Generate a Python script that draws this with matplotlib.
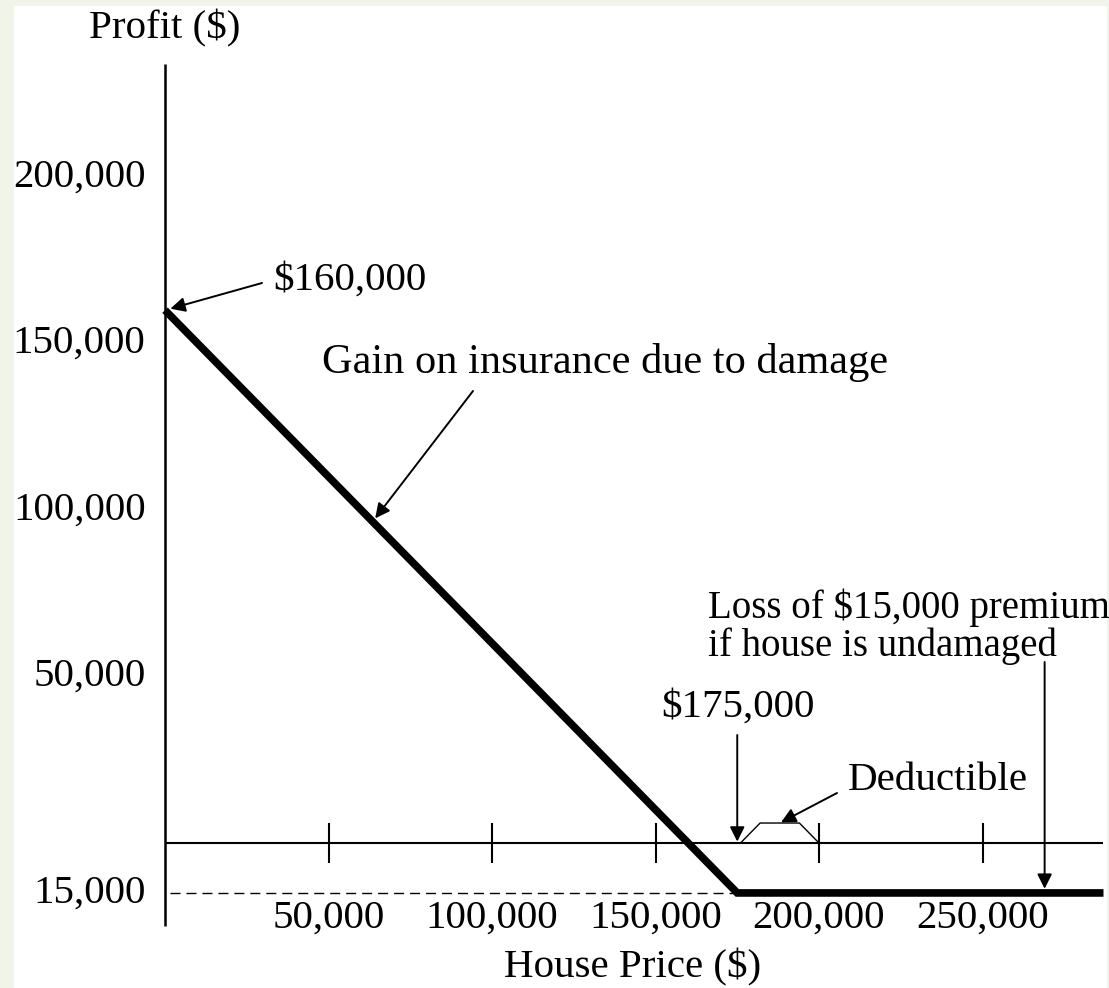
import numpy as np
import matplotlib.pyplot as plt
from matplotlib.patches import Rectangle

plt.rcParams['font.family'] = ['Liberation Serif', 'DejaVu Serif']

# payoff of the insurance position vs. house price
price = [0, 175000, 287000]
profit = [160000, -15000, -15000]

xticks = [50000, 100000, 150000, 200000, 250000]
xtick_labels = ['50,000', '100,000', '150,000', '200,000', '250,000']
yticks = [200000, 150000, 100000, 50000, -15000]
ytick_labels = ['200,000', '150,000', '100,000', '50,000', '15,000']

strike = 175000
deductible = [175000, 200000]
premium = -15000
premium_mark = 269000

# figure setup (sizes in pixels of the original picture)
W, H = 1109, 988
x0_px, x_scale = 165, 163.5 / 50000     # px per dollar of price
y0_px, y_scale = 843, 3.33 / 1000       # px per dollar of profit
fs = 29.5

fig = plt.figure(figsize=(W / 100, H / 100), dpi=100, facecolor='#f1f4e8')
ax = fig.add_axes([0, 0, 1, 1])
ax.axis('off')
ax.set_xlim(-x0_px / x_scale, (W - x0_px) / x_scale)
ax.set_ylim((y0_px - H) / y_scale, y0_px / y_scale)
ax.add_patch(Rectangle((14 / W, 0), (1107 - 14) / W, (H - 6) / H,
                       transform=fig.transFigure, facecolor='white',
                       edgecolor='none', zorder=0, clip_on=False))

# axes lines and ticks
ax.plot([0, 0], [-25000, 234000], color='black', lw=1.8, solid_capstyle='butt')
ax.plot([0, price[-1]], [0, 0], color='black', lw=1.5, solid_capstyle='butt')
ax.vlines(xticks, -6000, 6000, color='black', lw=1.5)
ax.plot([1500, strike], [premium, premium], color='black', lw=1.0,
        dashes=(7.2, 4.3))

# payoff line
ax.plot(price, profit, color='black', lw=5.5, solid_joinstyle='miter',
        solid_capstyle='butt', zorder=5)

# deductible bracket
d0, d1 = deductible
ax.plot([d0 + 1000, d0 + 7000, d1 - 6000, d1], [0, 6000, 6000, 0],
        color='black', lw=1.0)

for v, lab in zip(yticks, ytick_labels):
    ax.annotate(lab, (0, v), xytext=(-14, 0), textcoords='offset points',
                ha='right', va='center', fontsize=fs)
for v, lab in zip(xticks, xtick_labels):
    ax.annotate(lab, (v, 0), xytext=(0, -54), textcoords='offset points',
                ha='center', va='center', fontsize=fs)

fig.text(165 / W, 1 - 28 / H, 'Profit ($)', ha='center', va='center', fontsize=fs)
fig.text(633 / W, 1 - 967 / H, 'House Price ($)', ha='center', va='center', fontsize=fs)

arrow = dict(arrowstyle='-|>', color='black', lw=1.4, mutation_scale=22,
             shrinkA=0, shrinkB=0)


def note(text, tpos, ha, start, target, shrink=0, size=fs):
    fig.text(tpos[0] / W, 1 - tpos[1] / H, text, ha=ha, va='center',
             fontsize=size, linespacing=1.03)
    ax.annotate('', xy=target, xytext=start, textcoords='offset points',
                arrowprops=dict(arrow, shrinkB=shrink))


def px_offset(target, px):
    # offset (in points) from a data point to a spot given in picture pixels
    tx, ty = ax.transData.transform(target)
    return ((px[0] - tx) * 0.72, ((H - px[1]) - ty) * 0.72)


gx = 63500
notes = [
    ('$160,000', (273, 280), 'left', (262, 283), (0, profit[0]), 4, fs),
    ('Gain on insurance due to damage', (322, 362), 'left', (473, 391),
     (gx, np.interp(gx, price, profit)), 3, 30.5),
    ('Loss of $15,000 premium\nif house is undamaged', (708, 627), 'left',
     (None, 662), (premium_mark, premium), 3, 28),
    ('$175,000', (738, 707), 'center', (None, 735), (strike, 0), 1, fs),
    ('Deductible', (848, 780), 'left', (837, 793), (188000, 6000), 1, fs),
]
for text, tpos, ha, start, target, shrink, size in notes:
    if start[0] is None:   # vertical arrow straight above its target
        start = (ax.transData.transform(target)[0], start[1])
    note(text, tpos, ha, px_offset(target, start), target, shrink, size)

fig.savefig('out.png', dpi=100, facecolor=fig.get_facecolor())
